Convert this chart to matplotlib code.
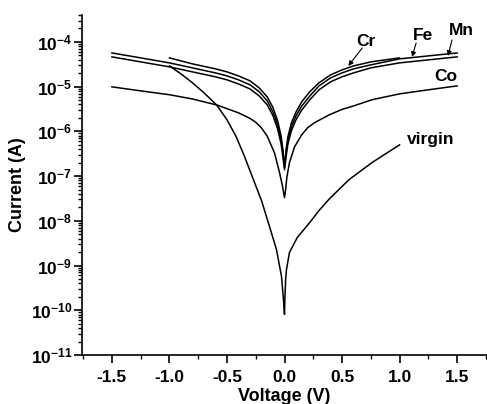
import math
import matplotlib
matplotlib.use("Agg")
import matplotlib.pyplot as plt
from matplotlib.ticker import FixedLocator, LogLocator, FuncFormatter, NullFormatter, MultipleLocator

plt.rcParams['font.family'] = ['Liberation Sans', 'DejaVu Sans']
plt.rcParams['font.weight'] = 'bold'
plt.rcParams['axes.unicode_minus'] = False
plt.rcParams['mathtext.fontset'] = 'custom'
plt.rcParams['mathtext.rm'] = 'Liberation Sans:bold'
plt.rcParams['mathtext.bf'] = 'Liberation Sans:bold'
plt.rcParams['mathtext.it'] = 'Liberation Sans:bold'

# ---- data (voltage in V, current in A) ----
v_cr = [-1.0, -0.8, -0.6, -0.5, -0.4, -0.3, -0.22, -0.15, -0.1, -0.06, -0.03, -0.015, 0.0,
        0.015, 0.03, 0.06, 0.1, 0.15, 0.22, 0.3, 0.4, 0.5, 0.6, 0.75, 1.0]
i_cr = [4.40e-5, 3.23e-5, 2.50e-5, 2.14e-5, 1.74e-5, 1.35e-5, 9.4e-6, 5.9e-6, 3.4e-6, 1.73e-6,
        8.0e-7, 4.1e-7, 1.7e-7, 4.1e-7, 7.6e-7, 1.56e-6, 2.7e-6, 4.6e-6, 7.7e-6, 1.22e-5,
        1.83e-5, 2.37e-5, 2.91e-5, 3.58e-5, 4.40e-5]

v_long = [-1.5, -1.25, -1.0, -0.8, -0.6, -0.5, -0.4, -0.3, -0.22, -0.15, -0.1, -0.06, -0.03,
          -0.015, 0.0, 0.015, 0.03, 0.06, 0.1, 0.15, 0.22, 0.3, 0.4, 0.5, 0.6, 0.75, 1.0, 1.25, 1.5]
i_mn = [5.67e-5, 4.40e-5, 3.40e-5, 2.63e-5, 2.03e-5, 1.74e-5, 1.42e-5, 1.10e-5, 7.7e-6, 4.8e-6,
        2.7e-6, 1.40e-6, 6.5e-7, 3.5e-7, 1.54e-7, 3.5e-7, 6.5e-7, 1.27e-6, 2.23e-6, 3.7e-6,
        6.2e-6, 1.04e-5, 1.57e-5, 2.03e-5, 2.50e-5, 3.07e-5, 4.18e-5, 4.87e-5, 5.67e-5]
i_fe = [4.63e-5, 3.58e-5, 2.77e-5, 2.14e-5, 1.66e-5, 1.42e-5, 1.15e-5, 8.9e-6, 6.2e-6, 3.9e-6,
        2.23e-6, 1.14e-6, 5.3e-7, 2.85e-7, 1.39e-7, 2.85e-7, 5.3e-7, 1.03e-6, 1.82e-6, 3.0e-6,
        5.1e-6, 8.5e-6, 1.28e-5, 1.66e-5, 2.03e-5, 2.63e-5, 3.40e-5, 3.97e-5, 4.63e-5]

v_co = [-1.5, -1.25, -1.0, -0.8, -0.59, -0.4, -0.3, -0.25, -0.2, -0.15, -0.087, -0.043, -0.02,
        0.0, 0.01, 0.02, 0.043, 0.087, 0.15, 0.2, 0.26, 0.39, 0.5, 0.6, 0.76, 1.0, 1.25, 1.5]
i_co = [9.9e-6, 8.05e-6, 6.6e-6, 5.3e-6, 3.9e-6, 2.6e-6, 1.95e-6, 1.6e-6, 1.19e-6, 7.8e-7,
        3.3e-7, 1.19e-7, 6.4e-8, 3.3e-8, 5.0e-8, 9.2e-8, 2.0e-7, 4.5e-7, 8.4e-7, 1.2e-6, 1.56e-6,
        2.35e-6, 3.1e-6, 3.7e-6, 5.1e-6, 6.9e-6, 8.5e-6, 1.04e-5]

v_virgin = [-1.0, -0.9, -0.8, -0.7, -0.59, -0.5, -0.42, -0.35, -0.28, -0.2, -0.13, -0.07,
            -0.026, -0.009, 0.0, 0.003, 0.01, 0.017, 0.043, 0.11, 0.22, 0.3, 0.39, 0.56, 0.76, 1.0]
i_virgin = [2.91e-5, 1.93e-5, 1.22e-5, 7.3e-6, 3.9e-6, 1.82e-6, 7.6e-7, 2.85e-7, 9.7e-8,
            2.85e-8, 7.4e-9, 2.3e-9, 5.7e-10, 1.74e-10, 8.1e-11, 1.74e-10, 4.9e-10, 8.1e-10,
            1.95e-9, 4.2e-9, 9.2e-9, 1.7e-8, 3.1e-8, 8.3e-8, 2.0e-7, 5.0e-7]

x_ticks = [-1.5, -1.0, -0.5, 0.0, 0.5, 1.0, 1.5]
y_decades = [1e-11, 1e-10, 1e-9, 1e-8, 1e-7, 1e-6, 1e-5, 1e-4]

fig = plt.figure(figsize=(4.87, 4.04), dpi=100)
ax = fig.add_axes([82/487, 49/404, 405/487, 340/404])

lw = 1.1
for v, i in [(v_cr, i_cr), (v_long, i_mn), (v_long, i_fe), (v_co, i_co), (v_virgin, i_virgin)]:
    ax.plot(v, i, color='black', lw=lw, solid_joinstyle='round')

ax.set_yscale('log')
ax.set_xlim(-1.76, 1.76)
ax.set_ylim(1e-11, 4e-4)

ax.xaxis.set_major_locator(FixedLocator(x_ticks))
ax.xaxis.set_minor_locator(MultipleLocator(0.25))
ax.set_xticklabels([f"{t:.1f}" for t in x_ticks])
ax.yaxis.set_major_locator(FixedLocator(y_decades))
ax.yaxis.set_minor_locator(LogLocator(base=10, subs=range(2, 10), numticks=20))
ax.yaxis.set_major_formatter(FuncFormatter(lambda y, p: r'$\mathbf{10^{%d}}$' % round(math.log10(y))))
ax.yaxis.set_minor_formatter(NullFormatter())

for s in ['top', 'right']:
    ax.spines[s].set_visible(False)
for s in ['left', 'bottom']:
    ax.spines[s].set_linewidth(1.2)

ax.tick_params(axis='both', which='major', direction='out', length=6, width=1.2, labelsize=12.5)
ax.tick_params(axis='both', which='minor', direction='out', length=3, width=1.0)
ax.tick_params(axis='x', which='major', pad=5)
ax.tick_params(axis='y', which='major', pad=1)
for lab in ax.get_xticklabels() + ax.get_yticklabels():
    lab.set_fontweight('bold')

ax.set_xlabel('Voltage (V)', fontsize=13, fontweight='bold', labelpad=2)
ax.set_ylabel('Current (A)', fontsize=13, fontweight='bold', labelpad=3)

tfs = 12.5
ax.text(0.71, 1.0e-4, 'Cr', fontsize=tfs, fontweight='bold', ha='center', va='center')
ax.text(1.205, 1.36e-4, 'Fe', fontsize=tfs, fontweight='bold', ha='center', va='center')
ax.text(1.534, 1.76e-4, 'Mn', fontsize=tfs, fontweight='bold', ha='center', va='center')
ax.text(1.404, 1.66e-5, 'Co', fontsize=tfs, fontweight='bold', ha='center', va='center')
ax.text(1.274, 6.5e-7, 'virgin', fontsize=tfs, fontweight='bold', ha='center', va='center')

ap = dict(arrowstyle='-|>', lw=0.8, color='black', mutation_scale=7, shrinkA=0, shrinkB=0)
ax.annotate('', xy=(0.555, 2.91e-5), xytext=(0.676, 7.35e-5), arrowprops=ap)
ax.annotate('', xy=(1.109, 4.62e-5), xytext=(1.144, 9.5e-5), arrowprops=ap)
ax.annotate('', xy=(1.421, 4.87e-5), xytext=(1.456, 1.11e-4), arrowprops=ap)

fig.savefig('out.png', dpi=100)
